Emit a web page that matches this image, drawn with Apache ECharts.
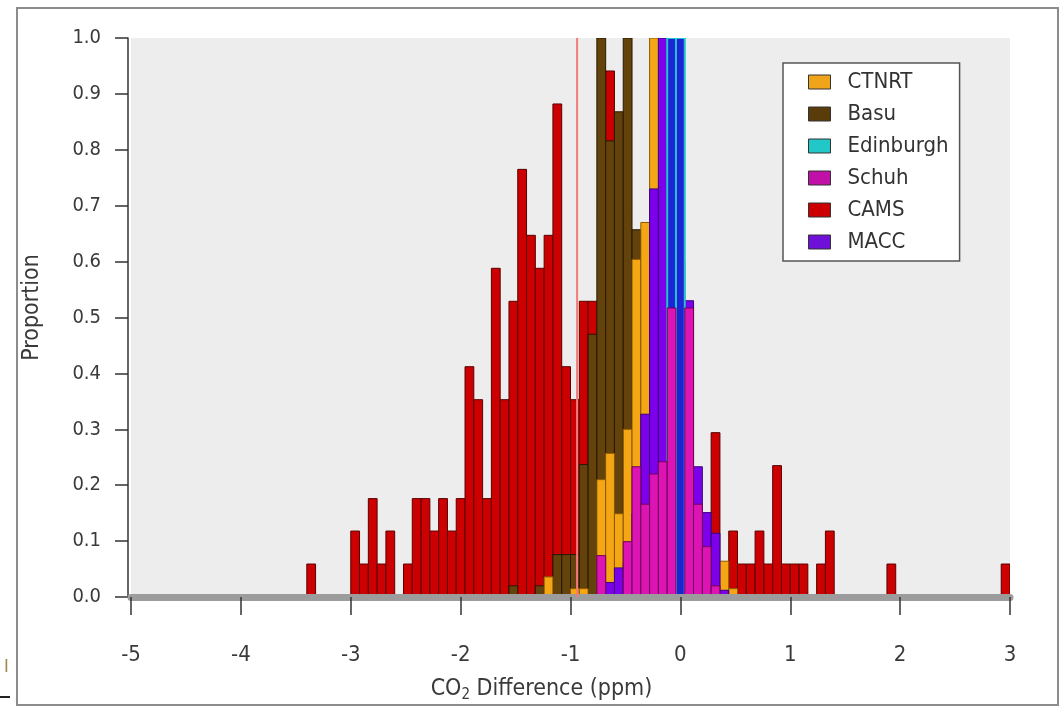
<!DOCTYPE html>
<html><head><meta charset="utf-8">
<script src="https://cdn.jsdelivr.net/npm/echarts@6/dist/echarts.min.js"></script>
<style>html,body{margin:0;padding:0;background:#fff}#c{width:1063px;height:708px}</style>
</head><body><div id="c"></div>
<script>
// ---- data (proportion per 0.08 ppm bin, bins identified by left edge) ----
const binEdges = [
  -3.40,-3.32,-3.24,-3.16,-3.08,-3.00,-2.92,-2.84,-2.76,-2.68,
  -2.60,-2.52,-2.44,-2.36,-2.28,-2.20,-2.12,-2.04,-1.96,-1.88,
  -1.80,-1.72,-1.64,-1.56,-1.48,-1.40,-1.32,-1.24,-1.16,-1.08,
  -1.00,-0.92,-0.84,-0.76,-0.68,-0.60,-0.52,-0.44,-0.36,-0.28,
  -0.20,-0.12,-0.04, 0.04, 0.12, 0.20, 0.28, 0.36, 0.44, 0.52,
   0.60, 0.68, 0.76, 0.84, 0.92, 1.00, 1.08, 1.16, 1.24, 1.32,
   1.40, 1.48, 1.56, 1.64, 1.72, 1.80, 1.88, 1.96, 2.04, 2.12,
   2.20, 2.28, 2.36, 2.44, 2.52, 2.60, 2.68, 2.76, 2.84, 2.92
];
const binWidth = 0.08;

const cams = [
  0.059,0,0,0,0,0.118,0.059,0.176,0.059,0.118,
  0,0.059,0.176,0.176,0.118,0.176,0.118,0.176,0.412,0.353,
  0.176,0.588,0.353,0.529,0.765,0.647,0.588,0.647,0.882,0.412,
  0.353,0.529,0.529,0.529,0.941,0.529,0.412,0.353,0.471,0.353,
  0.294,0.235,0.235,0.176,0.118,0.059,0.294,0,0.118,0.059,
  0.059,0.118,0.059,0.235,0.059,0.059,0.059,0,0.059,0.118,
  0,0,0,0,0,0,0.059,0,0,0,
  0,0,0,0,0,0,0,0,0,0.059
];
const basu = [
  0,0,0,0,0,0,0,0,0,0,
  0,0,0,0,0,0,0,0,0,0,
  0,0,0,0.02,0,0,0.02,0,0.076,0.076,
  0.076,0.237,0.47,1.0,0.816,0.868,1.0,0.657,0.45,0.3,
  0.15,0,0,0,0,0,0,0.012,0,0,
  0,0,0,0,0,0,0,0,0,0,
  0,0,0,0,0,0,0,0,0,0,
  0,0,0,0,0,0,0,0,0,0
];
const ctnrt = [
  0,0,0,0,0,0,0,0,0,0,
  0,0,0,0,0,0,0,0,0,0,
  0,0,0,0,0,0,0,0.036,0,0,
  0.015,0.015,0,0.21,0.257,0.149,0.30,0.604,0.67,1.0,
  0.55,0.35,0.2,0.12,0.1,0.06,0.04,0.064,0.015,0,
  0,0,0,0,0,0,0,0,0,0,
  0,0,0,0,0,0,0,0,0,0,
  0,0,0,0,0,0,0,0,0,0
];
const macc = [
  0,0,0,0,0,0,0,0,0,0,
  0,0,0,0,0,0,0,0,0,0,
  0,0,0,0,0,0,0,0,0,0,
  0,0,0,0,0.026,0.052,0.06,0.15,0.327,0.73,
  1.0,0.8,0.6,0.53,0.233,0.151,0.114,0.012,0,0,
  0,0,0,0,0,0,0,0,0,0,
  0,0,0,0,0,0,0,0,0,0,
  0,0,0,0,0,0,0,0,0,0
];
const edinburgh = [
  0,0,0,0,0,0,0,0,0,0,
  0,0,0,0,0,0,0,0,0,0,
  0,0,0,0,0,0,0,0,0,0,
  0,0,0,0,0,0,0,0,0,0,
  0,1.0,1.0,0,0,0,0,0,0,0,
  0,0,0,0,0,0,0,0,0,0,
  0,0,0,0,0,0,0,0,0,0,
  0,0,0,0,0,0,0,0,0,0
];
const schuh = [
  0,0,0,0,0,0,0,0,0,0,
  0,0,0,0,0,0,0,0,0,0,
  0,0,0,0,0,0,0,0,0,0,
  0,0,0,0.074,0,0,0.099,0.233,0.166,0.22,
  0.242,0.517,0,0.517,0.166,0.09,0.02,0,0,0,
  0,0,0,0,0,0,0,0,0,0,
  0,0,0,0,0,0,0,0,0,0,
  0,0,0,0,0,0,0,0,0,0
];
const refLineX = -0.94;
const legendOrder = ['CTNRT','Basu','Edinburgh','Schuh','CAMS','MACC'];
const xMin = -5, xMax = 3, xStep = 1;
const yMin = 0, yMax = 1, yStep = 0.1;

// ---- styles ----
const FF = "'DejaVu Sans Condensed','DejaVu Sans',sans-serif";
const TXT = '#3a3a3a';
const styles = {
  CAMS:      {fill:'#cc0000', stroke:'#5a0000', legend:'#cc0000'},
  Basu:      {fill:'#64420c', stroke:'#2a1800', legend:'#5a3c0a'},
  CTNRT:     {fill:'#f4a614', stroke:'#8a5a00', legend:'#f0a41a'},
  MACC:      {fill:'#7c00ea', stroke:'#3a0080', legend:'#6e10d8'},
  Edinburgh: {fill:'#1e24d4', stroke:'#20c4d0', legend:'#22c8c8', lw:2},
  Schuh:     {fill:'#dc14b4', stroke:'#70005a', legend:'#c010a8'}
};
const drawOrder = [['CAMS',cams],['Basu',basu],['CTNRT',ctnrt],['MACC',macc],['Edinburgh',edinburgh],['Schuh',schuh]];

function barRenderer(st) {
  return function (params, api) {
    const left = api.value(0), h = api.value(1);
    if (!h) return null;
    const a = api.coord([left, h]);
    const b = api.coord([left + binWidth, 0]);
    return {type:'rect',
      shape:{x:a[0], y:a[1], width:b[0]-a[0], height:b[1]-a[1]},
      style:{fill:st.fill, stroke:st.stroke, lineWidth:st.lw || 1}};
  };
}

const series = drawOrder.map(function (d) {
  const st = styles[d[0]];
  return {
    type:'custom', name:d[0], silent:true, clip:true, z:2,
    data: binEdges.map(function (e, i) { return [e, d[1][i]]; }),
    encode:{x:0, y:1},
    itemStyle:{color: st.legend},
    renderItem: barRenderer(st)
  };
});
series.push({
  type:'line', name:'ref', silent:true, z:6, symbol:'none',
  data:[[refLineX, yMin],[refLineX, yMax]],
  lineStyle:{color:'#f47b7b', width:2}
});

const chart = echarts.init(document.getElementById('c'), null, {renderer:'canvas'});
chart.setOption({
  animation:false,
  backgroundColor:'#ffffff',
  grid:{left:131, right:53, top:38, bottom:100, show:true, backgroundColor:'#ededed', borderWidth:0},
  xAxis:{
    type:'value', min:xMin, max:xMax, interval:xStep, z:5,
    axisLine:{show:true, onZero:false, lineStyle:{color:'#9c9c9c', width:7}},
    axisTick:{show:true, length:18, lineStyle:{color:'#333', width:1.5}},
    axisLabel:{margin:47, fontFamily:FF, fontSize:22, color:TXT},
    splitLine:{show:false},
    name:'CO{s|2} Difference (ppm)', nameLocation:'middle', nameGap:78,
    nameTextStyle:{fontFamily:FF, fontSize:23, color:TXT, lineHeight:28, padding:[0,58,0,0],
      rich:{s:{fontFamily:FF, fontSize:15, color:TXT, lineHeight:15, verticalAlign:'bottom'}}}
  },
  yAxis:{
    type:'value', min:yMin, max:yMax, interval:yStep, offset:3,
    axisLine:{show:true, onZero:false, lineStyle:{color:'#333', width:1.5}},
    axisTick:{show:true, length:13, lineStyle:{color:'#333', width:1.5}},
    axisLabel:{margin:27, fontFamily:FF, fontSize:20, color:TXT, formatter:function(v){return v.toFixed(1);}},
    splitLine:{show:false},
    name:'Proportion', nameLocation:'middle', nameGap:84, nameRotate:90,
    nameTextStyle:{fontFamily:FF, fontSize:23, color:TXT, padding:[0,0,0,20]}
  },
  legend:{
    data: legendOrder.map(function (n) {
      return {name:n, icon:'rect', itemStyle:{color:styles[n].legend, borderColor:'#333', borderWidth:1}};
    }),
    orient:'vertical', left:783, top:63, padding:[7,11,7,25],
    itemWidth:22, itemHeight:14, itemGap:8, selectedMode:false,
    backgroundColor:'#ffffff', borderColor:'#555', borderWidth:1.5,
    textStyle:{fontFamily:FF, fontSize:22, color:'#333', lineHeight:24, padding:[0,0,0,12]}
  },
  graphic:[
    {type:'rect', shape:{x:17, y:8, width:1041, height:697}, style:{fill:'none', stroke:'#8c8c8c', lineWidth:2}, z:100},
    {type:'text', left:4, top:658, style:{text:'I', fill:'#9b8a4a', font:'18px ' + FF}, z:100},
    {type:'line', shape:{x1:0, y1:697, x2:10, y2:697}, style:{stroke:'#222', lineWidth:2}, z:100}
  ],
  series: series
});
</script></body></html>
